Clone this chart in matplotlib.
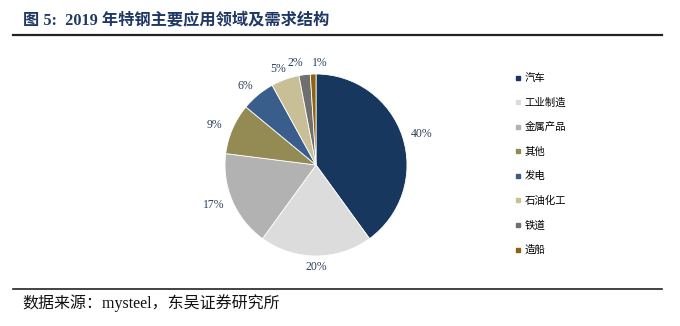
import numpy as np
import matplotlib.pyplot as plt
from matplotlib.lines import Line2D

categories = ['汽车', '工业制造', '金属产品', '其他', '发电', '石油化工', '铁道', '造船']
shares = [40, 20, 17, 9, 6, 5, 2, 1]
colors = ['#17375e', '#dcdcdc', '#b2b2b2', '#948a54', '#3a5e8c', '#c9bf97', '#6f6f6f', '#8c6310']

title_text = '图 5:  2019 年特钢主要应用领域及需求结构'
source_text = '数据来源：mysteel，东吴证券研究所'

fig = plt.figure(figsize=(6.8, 3.26), dpi=100)

# pie axes: centre ~ (316,165) px, radius ~91 px
cx, cy, r = 316, 165, 91
ax = fig.add_axes([(cx - r) / 680, (326 - cy - r) / 326, 2 * r / 680, 2 * r / 326])
wedges, texts = ax.pie(shares, colors=colors, startangle=90, counterclock=False,
                       wedgeprops=dict(edgecolor='white', linewidth=0.6), radius=1)
ax.set_xlim(-1, 1)
ax.set_ylim(-1, 1)
ax.set_aspect('auto')

# label positions outside the pie (a bit wider horizontally, like Excel)
pos = []
for w in wedges:
    mid = np.deg2rad((w.theta1 + w.theta2) / 2)
    pos.append([1.22 * np.cos(mid), 1.12 * np.sin(mid)])

# spread the two small labels at the top so they don't collide
min_gap = 24 / r
if abs(pos[-1][0] - pos[-2][0]) < min_gap:
    c = (pos[-1][0] + pos[-2][0]) / 2
    pos[-2][0] = c - min_gap / 2
    pos[-1][0] = c + min_gap / 2
    top = max(pos[-1][1], pos[-2][1])
    pos[-1][1] = pos[-2][1] = top

for (x, y), v in zip(pos, shares):
    ax.text(x, y, f'{v}%', ha='center', va='center', fontsize=8.5, color='#2b3f5c',
            family=['Liberation Serif', 'Noto Sans CJK SC'], clip_on=False)

# legend
handles = [Line2D([], [], marker='s', linestyle='none', markersize=3.5,
                  markerfacecolor=c, markeredgecolor=c) for c in colors]
fig.legend(handles, categories, loc='upper left', bbox_to_anchor=(505 / 680, 1 - 64 / 326),
           frameon=False, prop={'family': ['Noto Sans CJK SC'], 'size': 7.5},
           labelspacing=1.38, handlelength=0.6, handletextpad=0.4)

# title and rules
fig.text(23 / 680, 1 - 20 / 326, title_text, fontsize=11.7, fontweight='bold', color='#1f3864',
         ha='left', va='center', family=['Liberation Serif', 'Noto Sans CJK SC'])
fig.add_artist(Line2D([13 / 680, 662 / 680], [1 - 35 / 326] * 2, color='#222222', linewidth=1.6))
fig.add_artist(Line2D([13 / 680, 662 / 680], [1 - 289 / 326] * 2, color='#222222', linewidth=1.2))
fig.text(22 / 680, 1 - 303 / 326, source_text, fontsize=11.5, color='#111111',
         ha='left', va='center', family=['Liberation Serif', 'Noto Sans CJK SC'])

fig.savefig('out.png', dpi=100)
